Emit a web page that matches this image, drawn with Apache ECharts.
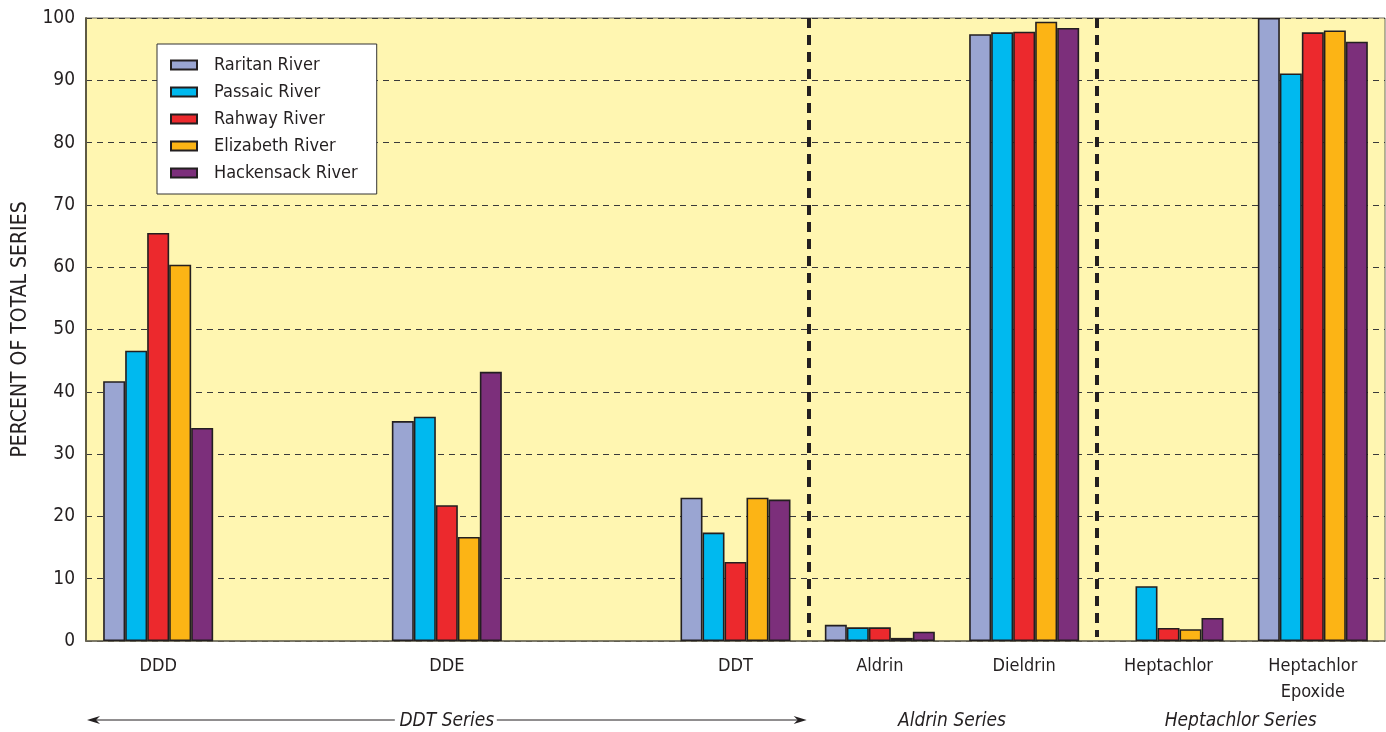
<!DOCTYPE html>
<html>
<head>
<meta charset="utf-8">
<title>Organochlorine pesticide series composition</title>
<script src="https://cdn.jsdelivr.net/npm/echarts@6/dist/echarts.min.js"></script>
<style>
  html, body { margin: 0; padding: 0; background: #ffffff; }
  #chart { width: 1386px; height: 732px; }
</style>
</head>
<body>
<div id="chart"></div>
<script>
// Compound slots along the x axis; the blank slots space out the DDT series.
const categories = ['DDD', ' ', 'DDE', '  ', 'DDT', 'Aldrin', 'Dieldrin', 'Heptachlor', 'Heptachlor\nEpoxide'];

// Percent of total series, one value per compound slot (null = no bar).
const raritan    = [41.7, null, 35.3, null, 23.0, 2.6, 97.4, null, 100.0];
const passaic    = [46.6, null, 36.0, null, 17.4, 2.2, 97.7, 8.8, 91.1];
const rahway     = [65.5, null, 21.8, null, 12.7, 2.2, 97.8, 2.1, 97.7];
const elizabeth  = [60.4, null, 16.7, null, 23.0, 0.5, 99.4, 1.9, 98.0];
const hackensack = [34.2, null, 43.2, null, 22.7, 1.5, 98.4, 3.7, 96.2];

const riverNames = ['Raritan River', 'Passaic River', 'Rahway River', 'Elizabeth River', 'Hackensack River'];
const riverColors = ['#9aa5d2', '#00b9ef', '#ec292d', '#fcb415', '#7c2f7b'];
const riverValues = [raritan, passaic, rahway, elizabeth, hackensack];

// Y axis ticks
const yTicks = [0, 10, 20, 30, 40, 50, 60, 70, 80, 90, 100];

// Slot boundaries where one pesticide series ends and the next begins
const groupBreaks = [5, 7];

// Pesticide series spans (slot indices, inclusive)
const groupNames = ['DDT Series', 'Aldrin Series', 'Heptachlor Series'];
const groupFrom = [0, 5, 7];
const groupTo = [4, 6, 8];
const groupArrows = [true, false, false];

const FONT = '"Liberation Sans Narrow", "DejaVu Sans Condensed", "Roboto Condensed", sans-serif';
const INK = '#231f20';

const chart = echarts.init(document.getElementById('chart'));

const series = riverNames.map((name, i) => ({
  name: name,
  type: 'bar',
  data: riverValues[i],
  barWidth: 22,
  barGap: '0%',
  itemStyle: { color: riverColors[i], borderColor: INK, borderWidth: 1.6 },
  emphasis: { disabled: true },
  animation: false
}));

chart.setOption({
  animation: false,
  textStyle: { fontFamily: FONT },
  grid: {
    left: 86, right: 1, top: 18, bottom: 91,
    show: true,
    backgroundColor: '#fff6b1',
    borderColor: '#6e6a58',
    borderWidth: 1
  },
  legend: {
    orient: 'vertical',
    left: 157,
    top: 44,
    padding: [12, 19, 12, 13],
    itemWidth: 26,
    itemHeight: 9,
    itemGap: 9,
    backgroundColor: '#ffffff',
    borderColor: '#333333',
    borderWidth: 1,
    borderRadius: 0,
    icon: 'rect',
    selectedMode: false,
    data: riverNames,
    textStyle: { fontFamily: FONT, fontSize: 18, color: INK, padding: [0, 0, 0, 12], lineHeight: 17 }
  },
  xAxis: {
    type: 'category',
    data: categories,
    boundaryGap: true,
    axisLine: { show: true, lineStyle: { color: '#6e6a58', width: 1.5 } },
    axisTick: { show: false },
    axisLabel: {
      interval: 0,
      margin: 12,
      fontFamily: FONT,
      fontSize: 18,
      color: INK,
      lineHeight: 26
    },
    splitLine: { show: false }
  },
  yAxis: {
    type: 'value',
    min: yTicks[0],
    max: yTicks[yTicks.length - 1],
    interval: yTicks[1] - yTicks[0],
    name: 'PERCENT OF TOTAL SERIES',
    nameLocation: 'middle',
    nameGap: 53,
    nameTextStyle: { fontFamily: FONT, fontSize: 21, color: INK },
    axisLine: { show: true, lineStyle: { color: '#5e5a44', width: 2 } },
    axisTick: { show: false },
    axisLabel: { fontFamily: FONT, fontSize: 19, color: INK, margin: 11 },
    splitLine: { show: true, lineStyle: { color: '#3a3a3a', width: 1, type: [6, 5] } }
  },
  series: series
});

// Series separators, pesticide series captions and the span arrow
function drawGroups() {
  const px = (i) => chart.convertToPixel({ xAxisIndex: 0 }, i);
  const band = px(1) - px(0);
  const yTop = chart.convertToPixel({ yAxisIndex: 0 }, yTicks[yTicks.length - 1]);
  const yBottom = chart.convertToPixel({ yAxisIndex: 0 }, yTicks[0]);
  const y = 721;
  const elements = [];

  groupBreaks.forEach((b) => {
    const x = Math.round(px(b) - band / 2) + 1;
    elements.push({
      type: 'line',
      shape: { x1: x, y1: yTop, x2: x, y2: yBottom - 4 },
      style: { stroke: INK, lineWidth: 4, lineDash: [10, 7] },
      z: 5
    });
  });

  groupNames.forEach((name, g) => {
    const left = px(groupFrom[g]) - band / 2;
    const right = px(groupTo[g]) + band / 2;
    const mid = (px(groupFrom[g]) + px(groupTo[g])) / 2;
    elements.push({
      type: 'text',
      x: mid, y: y,
      style: {
        text: name,
        fontFamily: FONT, fontSize: 19, fontStyle: 'italic',
        fill: INK, align: 'center', verticalAlign: 'middle'
      },
      z: 10
    });
    if (groupArrows[g]) {
      const halfText = 52;
      const ax0 = left + 1, ax1 = right - 1;
      const line = { stroke: INK, lineWidth: 1 };
      elements.push({ type: 'line', shape: { x1: ax0 + 6, y1: y - 1, x2: mid - halfText, y2: y - 1 }, style: line });
      elements.push({ type: 'line', shape: { x1: mid + halfText - 2, y1: y - 1, x2: ax1 - 6, y2: y - 1 }, style: line });
      elements.push({ type: 'polygon', shape: { points: [[ax0, y - 1], [ax0 + 13, y - 5], [ax0 + 9, y - 1], [ax0 + 13, y + 3]] }, style: { fill: INK } });
      elements.push({ type: 'polygon', shape: { points: [[ax1, y - 1], [ax1 - 13, y - 5], [ax1 - 9, y - 1], [ax1 - 13, y + 3]] }, style: { fill: INK } });
    }
  });
  chart.setOption({ graphic: { elements: elements } });
}
drawGroups();
</script>
</body>
</html>
